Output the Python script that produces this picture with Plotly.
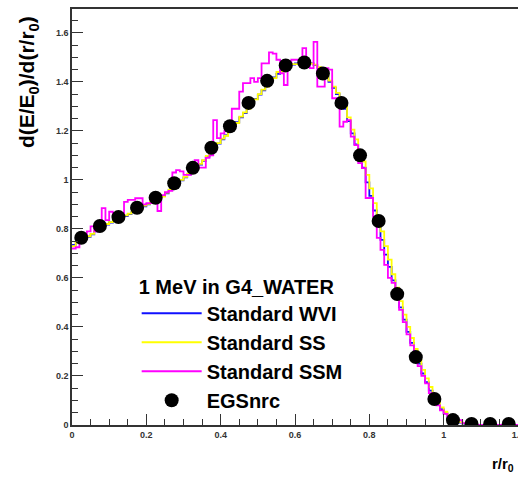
import plotly.graph_objects as go

# ---------------- data ----------------
bin_width = 0.01
n_bins = 120
bin_lo = [round(i * bin_width, 2) for i in range(n_bins)]

# Standard WVI (blue)
wvi = [0.735, 0.745, 0.755, 0.762, 0.768, 0.778, 0.790, 0.805, 0.812, 0.818,
       0.826, 0.832, 0.840, 0.848, 0.852, 0.860, 0.868, 0.875, 0.885, 0.892,
       0.900, 0.908, 0.915, 0.925, 0.935, 0.945, 0.958, 0.972, 0.986, 0.998,
       1.010, 1.022, 1.035, 1.050, 1.062, 1.078, 1.095, 1.112, 1.130, 1.148,
       1.165, 1.182, 1.200, 1.218, 1.235, 1.255, 1.272, 1.292, 1.312, 1.330,
       1.348, 1.365, 1.382, 1.402, 1.418, 1.432, 1.445, 1.455, 1.465, 1.470,
       1.475, 1.478, 1.480, 1.478, 1.475, 1.468, 1.458, 1.440, 1.420, 1.400,
       1.375, 1.350, 1.320, 1.290, 1.240, 1.190, 1.145, 1.100, 1.050, 0.990,
       0.935, 0.875, 0.815, 0.755, 0.695, 0.645, 0.590, 0.535, 0.480, 0.430,
       0.380, 0.335, 0.290, 0.250, 0.210, 0.175, 0.140, 0.110, 0.085, 0.065,
       0.048, 0.035, 0.024, 0.016, 0.010, 0.006, 0.004, 0.002, 0.001, 0.0,
       0.0, 0.0, 0.0, 0.0, 0.0, 0.0, 0.0, 0.0, 0.0, 0.0]

# Standard SS (yellow)
ss = [0.730, 0.745, 0.752, 0.765, 0.770, 0.780, 0.792, 0.800, 0.815, 0.820,
      0.828, 0.835, 0.842, 0.846, 0.855, 0.862, 0.870, 0.878, 0.883, 0.895,
      0.902, 0.910, 0.918, 0.928, 0.932, 0.948, 0.960, 0.970, 0.988, 1.000,
      1.012, 1.025, 1.038, 1.048, 1.065, 1.080, 1.098, 1.110, 1.128, 1.150,
      1.168, 1.180, 1.202, 1.220, 1.232, 1.258, 1.275, 1.290, 1.315, 1.328,
      1.350, 1.368, 1.380, 1.405, 1.415, 1.440, 1.442, 1.458, 1.462, 1.472,
      1.472, 1.480, 1.478, 1.483, 1.474, 1.470, 1.460, 1.445, 1.425, 1.405,
      1.380, 1.355, 1.330, 1.300, 1.255, 1.205, 1.165, 1.120, 1.075, 1.020,
      0.965, 0.905, 0.845, 0.790, 0.730, 0.675, 0.615, 0.560, 0.505, 0.450,
      0.400, 0.355, 0.310, 0.265, 0.225, 0.190, 0.155, 0.122, 0.095, 0.072,
      0.054, 0.040, 0.028, 0.018, 0.012, 0.007, 0.004, 0.002, 0.001, 0.0,
      0.0, 0.0, 0.0, 0.0, 0.0, 0.0, 0.0, 0.0, 0.0, 0.0]

# Standard SSM (magenta)
ssm = [0.720, 0.725, 0.750, 0.760, 0.790, 0.810, 0.790, 0.795, 0.885, 0.836,
       0.870, 0.860, 0.850, 0.855, 0.910, 0.918, 0.918, 0.925, 0.925, 0.900,
       0.905, 0.905, 0.905, 0.873, 0.938, 0.950, 0.955, 1.030, 1.040, 1.035,
       1.020, 1.020, 1.065, 1.080, 1.050, 1.050, 1.090, 1.100, 1.244, 1.170,
       1.190, 1.200, 1.230, 1.290, 1.290, 1.360, 1.395, 1.395, 1.415, 1.400,
       1.415, 1.475, 1.475, 1.520, 1.515, 1.490, 1.435, 1.387, 1.475, 1.490,
       1.490, 1.490, 1.537, 1.480, 1.456, 1.563, 1.380, 1.380, 1.456, 1.450,
       1.333, 1.333, 1.217, 1.237, 1.244, 1.176, 1.142, 1.068, 1.048, 0.926,
       0.926, 0.850, 0.763, 0.714, 0.653, 0.600, 0.580, 0.520, 0.470, 0.420,
       0.370, 0.325, 0.280, 0.240, 0.200, 0.170, 0.130, 0.105, 0.080, 0.060,
       0.045, 0.030, 0.030, 0.020, 0.020, 0.008, 0.006, 0.002, 0.0, 0.0,
       0.0, 0.0, 0.0, 0.0, 0.0, 0.0, 0.0, 0.0, 0.0, 0.0]

# EGSnrc reference points
egs_x = [0.025, 0.075, 0.125, 0.175, 0.225, 0.275, 0.325, 0.375, 0.425, 0.475,
         0.525, 0.575, 0.625, 0.675, 0.725, 0.775, 0.825, 0.875, 0.925, 0.975,
         1.025, 1.075, 1.125, 1.175]
egs_y = [0.764, 0.812, 0.848, 0.886, 0.927, 0.986, 1.049, 1.131, 1.219, 1.314,
         1.404, 1.467, 1.479, 1.434, 1.314, 1.100, 0.832, 0.534, 0.277, 0.106,
         0.020, 0.004, 0.004, 0.004]

x_ticks = [0, 0.2, 0.4, 0.6, 0.8, 1.0, 1.2]
x_tick_labels = ["0", "0.2", "0.4", "0.6", "0.8", "1", "1.2"]
y_ticks = [0, 0.2, 0.4, 0.6, 0.8, 1.0, 1.2, 1.4, 1.6]
y_tick_labels = ["0", "0.2", "0.4", "0.6", "0.8", "1", "1.2", "1.4", "1.6"]

# ---------------- figure ----------------
FONT = "Liberation Sans"
edges = bin_lo + [round(n_bins * bin_width, 2)]


def step(vals):
    return vals + [vals[-1]]


fig = go.Figure()
series = [("Standard WVI", wvi, "#1010ff"),
          ("Standard SS", ss, "#ffff00"),
          ("Standard SSM", ssm, "#ff00ff")]
for i, (name, vals, col) in enumerate(series):
    fig.add_trace(go.Scatter(x=edges, y=step(vals), mode="lines", name=name,
                             line=dict(color=col, width=1.8, shape="hv"),
                             legendgroup=f"g{i}"))

fig.add_trace(go.Scatter(x=egs_x, y=egs_y, mode="markers", name="EGSnrc",
                         marker=dict(color="black", size=14),
                         legendgroup="g3"))

axis_common = dict(
    showline=True, linecolor="#333", linewidth=1.6, mirror=True,
    ticks="inside", ticklen=11, tickwidth=1.4, tickcolor="#333",
    showgrid=False, zeroline=False, automargin=False,
    tickfont=dict(family=FONT, size=9, color="#333", weight="bold"),
)

fig.update_layout(
    width=518, height=477,
    margin=dict(l=72, r=0, t=9, b=52),
    paper_bgcolor="white", plot_bgcolor="white",
    xaxis=dict(range=[0, 1.2], tickvals=x_ticks, ticktext=x_tick_labels,
               ticklabeloverflow="allow",
               minor=dict(ticks="inside", ticklen=6, dtick=0.05, tickcolor="#333"),
               **axis_common),
    yaxis=dict(range=[0, 1.697], tickvals=y_ticks, ticktext=y_tick_labels,
               minor=dict(ticks="inside", ticklen=6, dtick=0.05, tickcolor="#333"),
               **axis_common),
    showlegend=True,
    legend=dict(
        x=0.145, y=0.378, xanchor="left", yanchor="top",
        bgcolor="rgba(0,0,0,0)",
        font=dict(family=FONT, size=20, color="black", weight="bold"),
        title=dict(text="1 MeV in G4_WATER",
                   font=dict(family=FONT, size=20, color="black", weight="bold")),
        itemwidth=60, tracegroupgap=0,
    ),
    annotations=[
        dict(text="d(E/E<sub>0</sub>)/d(r/r<sub>0</sub>)", xref="paper", yref="paper",
             x=-0.098, y=0.825, xanchor="center", yanchor="middle", textangle=-90,
             showarrow=False,
             font=dict(family=FONT, size=21, color="black", weight="bold")),
        dict(text="r/r<sub>0</sub>", xref="paper", yref="paper",
             x=0.966, y=-0.094, xanchor="center", yanchor="middle",
             showarrow=False,
             font=dict(family=FONT, size=15, color="black", weight="bold")),
    ],
)

fig.write_html("out.html")
